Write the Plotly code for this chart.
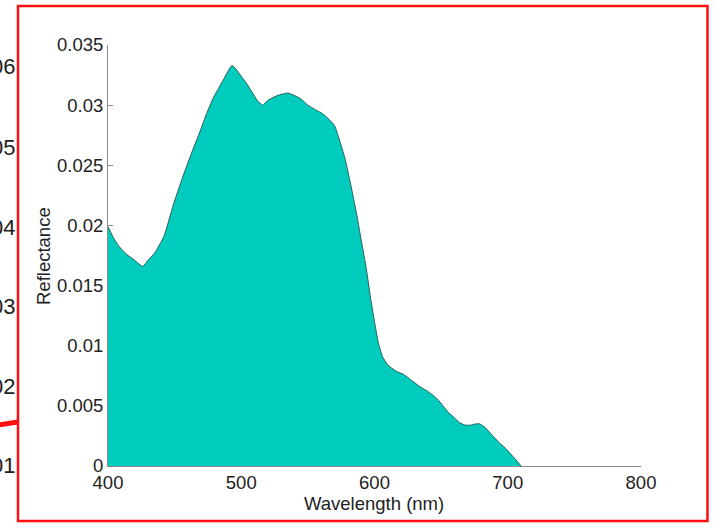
import plotly.graph_objects as go

wavelength = [400, 404, 408, 414, 420, 426, 430, 435, 442, 449, 456, 463, 469, 474, 479,
              483, 487, 490, 493, 496, 500, 504, 508, 512, 516, 520, 525, 530, 535, 540,
              545, 550, 556, 561, 566, 570, 574, 578, 581, 584, 587, 590, 594, 597, 600,
              603, 606, 610, 616, 622, 628, 634, 640, 646, 650, 655, 660, 664, 668, 672,
              676, 679, 683, 688, 694, 699, 703, 707, 710]
reflectance = [0.0199, 0.0190, 0.0183, 0.0176, 0.0171, 0.0166, 0.0171, 0.0177, 0.0191, 0.0217,
               0.0240, 0.0261, 0.0278, 0.0293, 0.0306, 0.0314, 0.0322, 0.0328, 0.0333, 0.0330,
               0.0324, 0.0318, 0.0311, 0.0304, 0.0300, 0.0304, 0.0307, 0.0309, 0.0310, 0.0308,
               0.0305, 0.0300, 0.0296, 0.0293, 0.0288, 0.0283, 0.0270, 0.0255, 0.0240, 0.0224,
               0.0207, 0.0188, 0.0163, 0.0140, 0.0120, 0.0102, 0.0091, 0.0084, 0.0079, 0.0076,
               0.0071, 0.0066, 0.0062, 0.0057, 0.0052, 0.0045, 0.0040, 0.0036, 0.0034, 0.0034,
               0.0035, 0.0035, 0.0032, 0.0026, 0.0019, 0.0014, 0.0009, 0.0004, 0.0]

x_ticks = [400, 500, 600, 700, 800]
y_ticks = [0, 0.005, 0.01, 0.015, 0.02, 0.025, 0.03, 0.035]
y_tick_text = ["0", "0.005", "0.01", "0.015", "0.02", "0.025", "0.03", "0.035"]
side_labels = ["06", "05", "04", "03", "02", "01"]
side_label_px = [67, 147, 227, 306, 386, 465]

W, H = 716, 524
L, R, T, B = 108, 641, 45, 466
pw, ph = R - L, B - T

def px_x(p):
    return (p - L) / pw

def px_y(p):
    return (B - p) / ph

font = "Liberation Sans, Arial, Helvetica, sans-serif"

fig = go.Figure()
fig.add_trace(go.Scatter(
    x=wavelength, y=reflectance, mode="lines", fill="tozeroy",
    fillcolor="#00CCBE", line=dict(color="#2c5f5a", width=1, shape="spline", smoothing=0.5),
    hoverinfo="skip", showlegend=False,
))

axis_common = dict(
    showline=True, linecolor="#8a8a8a", linewidth=1,
    ticks="inside", ticklen=5, tickcolor="#8a8a8a", tickwidth=1,
    showgrid=False, zeroline=False, mirror=False,
    tickfont=dict(family=font, size=18.5, color="#222222"),
    layer="below traces",
)

fig.update_xaxes(range=[400, 800], tickvals=x_ticks, **axis_common)
fig.update_yaxes(range=[0, 0.035], tickvals=y_ticks, ticktext=y_tick_text, **axis_common)

annotations = [
    dict(text="Wavelength (nm)", xref="paper", yref="paper", x=px_x(374), y=px_y(503),
         xanchor="center", yanchor="middle", showarrow=False,
         font=dict(family=font, size=18.5, color="#222222")),
    dict(text="Reflectance", xref="paper", yref="paper", x=px_x(43), y=px_y(256),
         xanchor="center", yanchor="middle", textangle=-90, showarrow=False,
         font=dict(family=font, size=18.5, color="#222222")),
]
for lab, py in zip(side_labels, side_label_px):
    annotations.append(dict(text=lab, xref="paper", yref="paper", x=px_x(17), y=px_y(py),
                            xanchor="right", yanchor="middle", showarrow=False,
                            font=dict(family=font, size=22, color="#222222")))

shapes = [
    dict(type="line", xref="paper", yref="paper", x0=px_x(-2), y0=px_y(425),
         x1=px_x(18), y1=px_y(422), line=dict(color="#ff1010", width=5), layer="above"),
    dict(type="rect", xref="paper", yref="paper", x0=px_x(18), y0=px_y(521),
         x1=px_x(707.5), y1=px_y(6), line=dict(color="#ff1010", width=2.5),
         fillcolor="rgba(0,0,0,0)", layer="above"),
]

fig.update_layout(
    width=W, height=H,
    margin=dict(l=L, r=W - R, t=T, b=H - B),
    paper_bgcolor="white", plot_bgcolor="white",
    annotations=annotations, shapes=shapes,
    font=dict(family=font),
)

fig.write_html("out.html")
